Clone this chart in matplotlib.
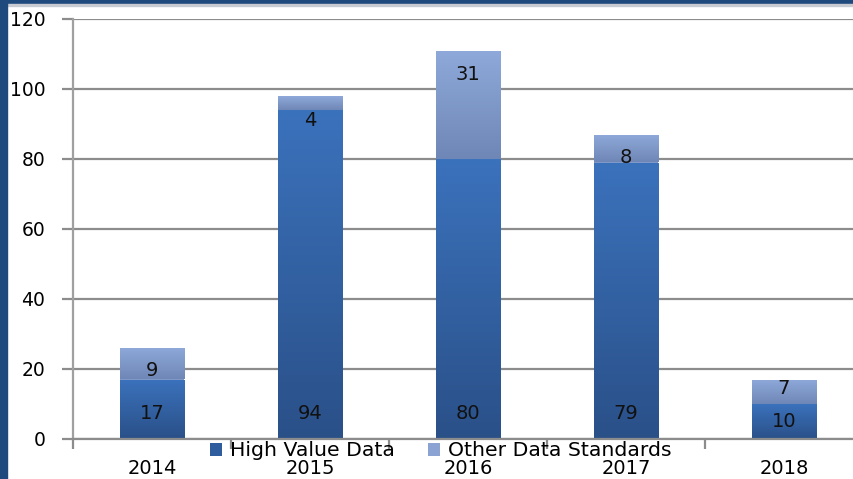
import numpy as np
import matplotlib
matplotlib.use("Agg")
import matplotlib.pyplot as plt
from matplotlib.patches import Rectangle
from matplotlib.colors import LinearSegmentedColormap

years = ["2014", "2015", "2016", "2017", "2018"]
high_value = [17, 94, 80, 79, 10]
other_std = [9, 4, 31, 8, 7]
series_names = ["High Value Data", "Other Data Standards"]
# label anchor heights (layout only)
upper_label_at = [19.5, 91, 104, 80.5, 14.5]

plt.rcParams['font.family'] = ['DejaVu Sans']
W, H = 854, 479
fig = plt.figure(figsize=(W / 100, H / 100), dpi=100)
FS = 14

# frame bands
fig.patches.append(Rectangle((0, 1 - 4 / H), 1, 4 / H, transform=fig.transFigure,
                             color="#1f4a7e", zorder=0))
fig.patches.append(Rectangle((0, 1 - 6 / H), 1, 2 / H, transform=fig.transFigure,
                             color="#c8ccd2", zorder=0))
fig.patches.append(Rectangle((0, 0), 7 / W, 1, transform=fig.transFigure,
                             color="#1f4a7e", zorder=1))

ax = fig.add_axes([73 / W, 1 - 439 / H, 790 / W, 420 / H])
ax.set_xlim(-0.5, 4.5)
ax.set_ylim(0, 120)
ax.patch.set_alpha(0)

grid_c = "#8c8c8c"
for s in ["top", "right"]:
    ax.spines[s].set_visible(False)
ax.spines["left"].set_color("#a0a0a0")
ax.spines["left"].set_linewidth(1.6)
ax.spines["bottom"].set_color(grid_c)
ax.spines["bottom"].set_linewidth(1.6)

ax.set_yticks(np.arange(0, 121, 20))
ax.yaxis.grid(True, color=grid_c, linewidth=1.6)
ax.set_axisbelow(True)
ax.tick_params(axis="y", length=8, width=1.6, color=grid_c, pad=12, labelsize=13.5)

# category boundaries as ticks, labels at centers
x = np.arange(len(years))
ax.set_xticks(np.arange(-0.5, len(years) + 0.5, 1), minor=False)
ax.set_xticklabels([])
ax.tick_params(axis="x", which="major", length=7, width=1.6, color=grid_c)
ax.set_xticks(x, minor=True)
ax.set_xticklabels(years, minor=True)
ax.tick_params(axis="x", which="minor", length=0, pad=14.5, labelsize=FS)

cm_low = LinearSegmentedColormap.from_list("low", ["#2a5088", "#3b72bc"])
cm_up = LinearSegmentedColormap.from_list("up", ["#6f87b6", "#8ea9da"])
grad = np.linspace(0, 1, 256).reshape(-1, 1)
bw = 0.41

# solid underlay to avoid seams between gradient segments
ax.bar(x, high_value, width=bw, color="#3468ad", zorder=1.9, linewidth=0)
ax.bar(x, other_std, bottom=high_value, width=bw, color="#7f98c8", zorder=1.9,
       linewidth=0)

def grad_bar(xc, bottom, height, cmap):
    rect = Rectangle((xc - bw / 2, bottom), bw, height, facecolor="none",
                     edgecolor="none")
    ax.add_patch(rect)
    im = ax.imshow(grad, cmap=cmap, origin="lower", aspect="auto",
                   extent=(xc - bw / 2, xc + bw / 2, bottom, bottom + height),
                   zorder=2)
    im.set_clip_path(rect)

for i, (h, o) in enumerate(zip(high_value, other_std)):
    grad_bar(x[i], 0, h, cm_low)
    grad_bar(x[i], h, o, cm_up)
    ax.text(x[i], min(h / 2, 7.3), str(h), ha="center", va="center",
            fontsize=FS, color="#111111", zorder=3)
    ax.text(x[i], upper_label_at[i], str(o), ha="center", va="center",
            fontsize=FS, color="#111111", zorder=3)

ax.set_xlim(-0.5, 4.5)
ax.set_ylim(0, 120)

handles = [Rectangle((0, 0), 1, 1, facecolor="#2f5c9c"),
           Rectangle((0, 0), 1, 1, facecolor="#8aa3d2")]
leg = fig.legend(handles, series_names, loc="center", ncol=2,
                 bbox_to_anchor=(441 / W, 1 - 451 / H), frameon=False,
                 fontsize=14.7, handlelength=0.6, handleheight=0.6,
                 handletextpad=0.4, columnspacing=1.6, borderpad=0)

fig.savefig("out.png", dpi=100)
